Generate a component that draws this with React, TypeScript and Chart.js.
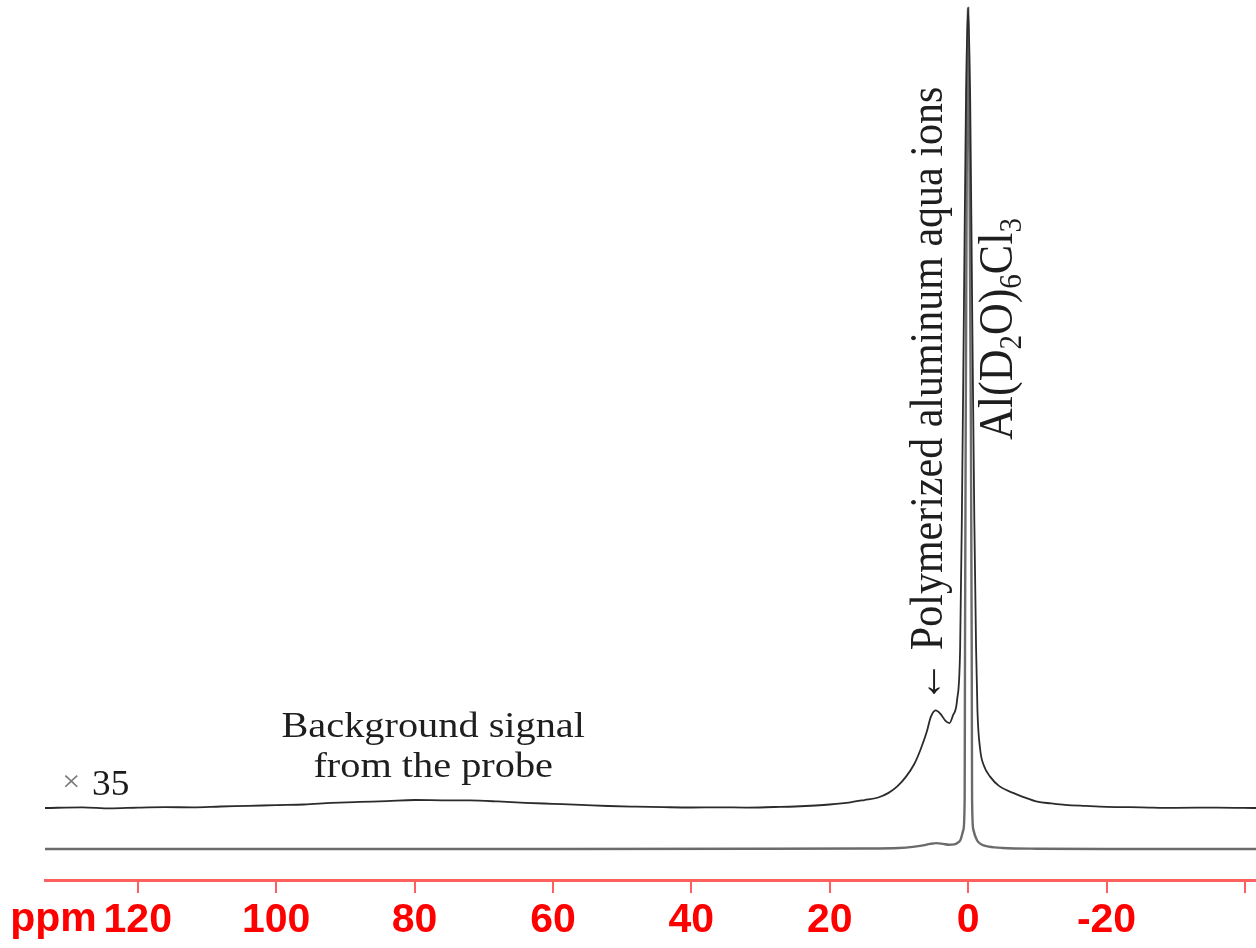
import React, { useEffect, useRef } from 'react';
import { Chart, registerables } from 'chart.js';

Chart.register(...registerables);

// ---- axis ranges (ppm, reversed) ----
const X_MIN = -41.6;
const X_MAX = 133.4;
const Y_MIN = -3.69;
const Y_MAX = 100.95;

// ---- tick labels ----
const TICKS = [120, 100, 80, 60, 40, 20, 0, -20, -40];
const HIDDEN_TICK_LABELS = [-40];

// ---- upper trace (x35), values relative to its own baseline ----
const UPPER_OFFSET = 4.87;
const UPPER_PPM = [
  133.4, 128, 124, 120, 116, 112, 108, 104, 100, 96, 92, 88, 84, 80, 76, 72, 68, 64, 60, 56, 52, 48,
  44, 40, 36, 32, 28, 25, 22, 20, 17, 15, 13, 11.5, 10.2, 9.0, 7.8, 6.9, 6.0, 5.4, 4.7, 4.0, 3.3, 2.7,
  2.2, 1.6, 1.16, 0.9, 0.6, 0.3, 0, -0.3, -0.6, -0.9, -1.15, -1.35, -1.75, -2.3, -3.2, -4.5, -6.5, -8,
  -10, -12, -14, -17, -20, -25, -30, -36, -41.6,
];
const UPPER_VAL = [
  0.0, 0.08, -0.04, 0.05, 0.1, 0.08, 0.18, 0.25, 0.35, 0.42, 0.6, 0.72, 0.82, 0.95, 0.92, 0.9, 0.78,
  0.62, 0.5, 0.38, 0.24, 0.16, 0.1, 0.06, 0.08, 0.05, 0.12, 0.18, 0.3, 0.42, 0.68, 0.95, 1.25, 1.8,
  2.6, 3.7, 5.2, 6.9, 9.0, 10.8, 11.6, 11.2, 10.4, 10.1, 11.0, 12.8, 18.8, 35, 60, 85, 95.1, 84, 58,
  34, 19, 11.5, 6.9, 5.0, 3.7, 2.6, 1.8, 1.3, 0.75, 0.55, 0.38, 0.25, 0.14, 0.08, 0.02, 0.05, 0.0,
];

// ---- lower trace (x1) ----
const LOWER_PPM = [
  133.4, 100, 60, 30, 15, 10, 8, 6.5, 5.5, 4.6, 3.6, 2.8, 2.0, 1.5, 1.16, 0.68, 0.5, 0.45, 0.35, 0.2,
  0, -0.2, -0.4, -0.52, -0.57, -0.75, -1.3, -2.0, -3.0, -5.0, -10, -20, -41.6,
];
const LOWER_VAL = [
  0, 0, 0, 0.02, 0.05, 0.12, 0.25, 0.42, 0.6, 0.7, 0.6, 0.5, 0.55, 0.75, 1.0, 2.3, 6, 24, 50, 80,
  100, 80, 50, 24, 6, 2.3, 1.0, 0.5, 0.28, 0.12, 0.03, 0, 0,
];

// ---- annotation anchors (data coordinates) ----
const X35_POS = { ppm: 130.9, y: 6.42 };
const BG_POS = { ppm: 77.3, y1: 13.31, y2: 8.56 };
const POLY_POS = { ppm: 3.75, y: 17.4 };
const AL_POS = { ppm: -6.4, y: 48.63 };

const SERIF = '"Liberation Serif", "Times New Roman", serif';
const STRETCH = 1.12;

const annotationPlugin = {
  id: 'nmrAnnotations',
  afterDraw(chart: any) {
    const ctx = chart.ctx as CanvasRenderingContext2D;
    const xs = chart.scales.x;
    const ys = chart.scales.y;
    const px = (v: number) => xs.getPixelForValue(v);
    const py = (v: number) => ys.getPixelForValue(v);

    ctx.save();
    // "ppm" unit label next to the 120 tick label
    ctx.font = 'bold 41px "Liberation Sans", Arial, sans-serif';
    ctx.fillStyle = '#ff0000';
    ctx.textAlign = 'right';
    ctx.textBaseline = 'middle';
    ctx.fillText('ppm', px(120) - 41, 920);
    ctx.restore();

    // x 35
    ctx.save();
    ctx.translate(px(X35_POS.ppm), py(X35_POS.y));
    ctx.scale(STRETCH * 0.95, 1);
    ctx.textBaseline = 'alphabetic';
    ctx.textAlign = 'left';
    ctx.font = `30px ${SERIF}`;
    ctx.fillStyle = '#777';
    ctx.fillText('×', 0, -4);
    ctx.font = `35px ${SERIF}`;
    ctx.fillStyle = '#1a1a1a';
    ctx.fillText('35', 28, 0);
    ctx.restore();

    // background text
    ctx.save();
    ctx.font = `36px ${SERIF}`;
    ctx.fillStyle = '#1e1e1e';
    ctx.textAlign = 'center';
    ctx.textBaseline = 'alphabetic';
    ctx.translate(px(BG_POS.ppm), 0);
    ctx.scale(STRETCH, 1);
    ctx.fillText('Background signal', 0, py(BG_POS.y1));
    ctx.fillText('from the probe', 0, py(BG_POS.y2));
    ctx.restore();

    // polymerized label, rotated
    ctx.save();
    ctx.translate(px(POLY_POS.ppm), py(POLY_POS.y));
    ctx.scale(STRETCH, 1);
    ctx.rotate(-Math.PI / 2);
    ctx.font = `42px ${SERIF}`;
    ctx.fillStyle = '#1e1e1e';
    ctx.textAlign = 'left';
    ctx.textBaseline = 'alphabetic';
    ctx.fillText('← Polymerized aluminum aqua ions', 0, 0);
    ctx.restore();

    // Al(D2O)6Cl3, rotated with subscripts
    ctx.save();
    ctx.translate(px(AL_POS.ppm), py(AL_POS.y));
    ctx.scale(STRETCH, 1);
    ctx.rotate(-Math.PI / 2);
    ctx.fillStyle = '#1e1e1e';
    ctx.textAlign = 'left';
    ctx.textBaseline = 'alphabetic';
    const parts: [string, boolean][] = [
      ['Al(D', false], ['2', true], ['O)', false], ['6', true], ['Cl', false], ['3', true],
    ];
    let cx = 0;
    for (const [t, sub] of parts) {
      ctx.font = sub ? `29px ${SERIF}` : `44px ${SERIF}`;
      ctx.fillText(t, cx, sub ? 8 : 0);
      cx += ctx.measureText(t).width;
    }
    ctx.restore();
  },
};

export default function App() {
  const ref = useRef<HTMLCanvasElement | null>(null);

  useEffect(() => {
    if (!ref.current) return;
    const upper = UPPER_PPM.map((x, i) => ({ x, y: UPPER_VAL[i] + UPPER_OFFSET }));
    const lower = LOWER_PPM.map((x, i) => ({ x, y: LOWER_VAL[i] }));

    const chart = new Chart(ref.current, {
      type: 'line',
      data: {
        datasets: [
          {
            label: 'x35',
            data: upper,
            borderColor: '#2b2b2b',
            borderWidth: 1.8,
            pointRadius: 0,
            fill: false,
            cubicInterpolationMode: 'monotone',
          },
          {
            label: 'x1',
            data: lower,
            borderColor: '#6b6b6b',
            borderWidth: 2.4,
            pointRadius: 0,
            fill: false,
            cubicInterpolationMode: 'monotone',
          },
        ],
      },
      options: {
        animation: false,
        responsive: false,
        layout: { padding: { left: 45, right: 0, top: 0, bottom: 0 } },
        plugins: {
          legend: { display: false },
          tooltip: { enabled: false },
        },
        scales: {
          x: {
            type: 'linear',
            reverse: true,
            min: X_MIN,
            max: X_MAX,
            afterBuildTicks: (scale: any) => {
              scale.ticks = TICKS.map((v) => ({ value: v }));
            },
            afterFit: (scale: any) => {
              scale.height = 68;
            },
            border: { display: true, color: 'rgb(255,95,95)', width: 3 },
            grid: {
              drawOnChartArea: false,
              drawTicks: true,
              tickLength: 13,
              color: 'rgb(255,95,95)',
              lineWidth: 2,
            },
            ticks: {
              autoSkip: false,
              maxRotation: 0,
              padding: 3,
              color: '#ff0000',
              font: { family: '"Liberation Sans", Arial, sans-serif', size: 41, weight: 'bold', lineHeight: 1.2 },
              callback: (v: any) => (HIDDEN_TICK_LABELS.includes(Number(v)) ? '' : String(v)),
            },
          },
          y: {
            type: 'linear',
            display: false,
            min: Y_MIN,
            max: Y_MAX,
          },
        },
      },
      plugins: [annotationPlugin],
    } as any);

    return () => chart.destroy();
  }, []);

  return (
    <div style={{ position: 'fixed', left: 0, top: 0, width: 1256, height: 948, background: '#fff' }}>
      <canvas ref={ref} width={1256} height={948} style={{ display: 'block' }} />
    </div>
  );
}
